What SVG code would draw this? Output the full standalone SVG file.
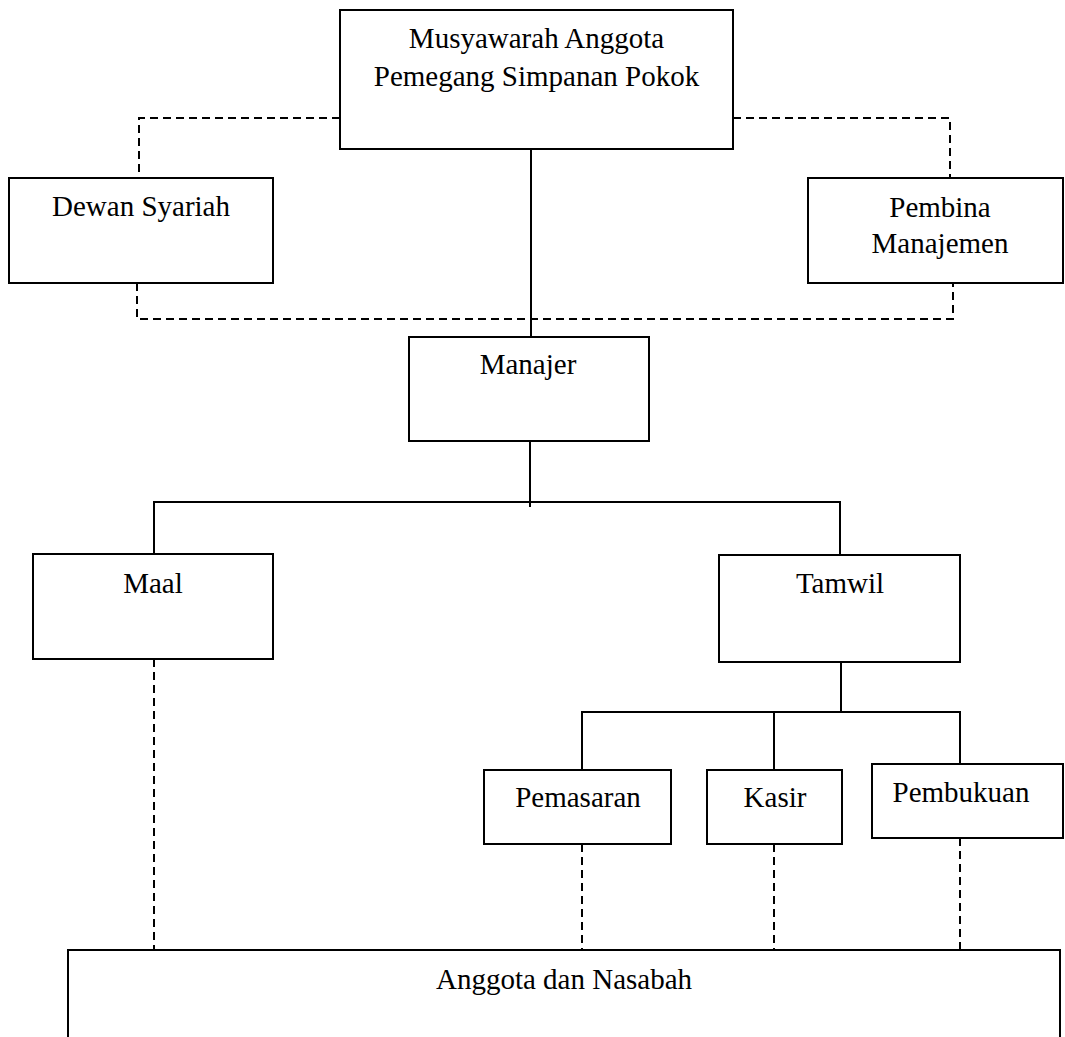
<svg xmlns="http://www.w3.org/2000/svg" width="1065" height="1037" viewBox="0 0 1065 1037">
<style>
.box{fill:#fff;stroke:#000;stroke-width:2}
.t{font-family:"Liberation Serif","Times New Roman",serif;font-size:29px;fill:#000;text-anchor:middle}
.solid{fill:none;stroke:#000;stroke-width:2}
.dash{fill:none;stroke:#000;stroke-width:2;stroke-dasharray:8 5}
</style>
<rect width="1065" height="1037" fill="#fff"/>
<g id="connectors">
<path class="dash" d="M340 118 H139 V178"/>
<path class="dash" d="M733 118 H950 V178"/>
<path class="dash" d="M137 283 V319 H953 V283"/>
<path class="solid" d="M531 149 V337"/>
<path class="solid" d="M530 441 V507"/>
<path class="solid" d="M154 554 V502 H840 V555"/>
<path class="solid" d="M841 662 V712"/>
<path class="solid" d="M582 770 V712 H960 V764"/>
<path class="solid" d="M774 712 V770"/>
<path class="dash" d="M154 659 V950"/>
<path class="dash" d="M582 844 V950"/>
<path class="dash" d="M774 844 V950"/>
<path class="dash" d="M960 838 V950"/>
</g>
<g id="musyawarah">
<rect class="box" x="340" y="10" width="393" height="139"/>
<text class="t" x="536.5" y="48">Musyawarah Anggota</text>
<text class="t" x="536.5" y="86">Pemegang Simpanan Pokok</text>
</g>
<g id="dewan-syariah">
<rect class="box" x="9" y="178" width="264" height="105"/>
<text class="t" x="141" y="216">Dewan Syariah</text>
</g>
<g id="pembina-manajemen">
<rect class="box" x="808" y="178" width="255" height="105"/>
<text class="t" x="940" y="217">Pembina</text>
<text class="t" x="940" y="253">Manajemen</text>
</g>
<g id="manajer">
<rect class="box" x="409" y="337" width="240" height="104"/>
<text class="t" x="528" y="374">Manajer</text>
</g>
<g id="maal">
<rect class="box" x="33" y="554" width="240" height="105"/>
<text class="t" x="153" y="593">Maal</text>
</g>
<g id="tamwil">
<rect class="box" x="719" y="555" width="241" height="107"/>
<text class="t" x="840" y="593">Tamwil</text>
</g>
<g id="pemasaran">
<rect class="box" x="484" y="770" width="187" height="74"/>
<text class="t" x="578" y="807">Pemasaran</text>
</g>
<g id="kasir">
<rect class="box" x="707" y="770" width="135" height="74"/>
<text class="t" x="775" y="807">Kasir</text>
</g>
<g id="pembukuan">
<rect class="box" x="872" y="764" width="191" height="74"/>
<text class="t" x="961" y="802">Pembukuan</text>
</g>
<g id="anggota-nasabah">
<rect class="box" x="68" y="950" width="992" height="100"/>
<text class="t" x="564" y="989">Anggota dan Nasabah</text>
</g>
</svg>
